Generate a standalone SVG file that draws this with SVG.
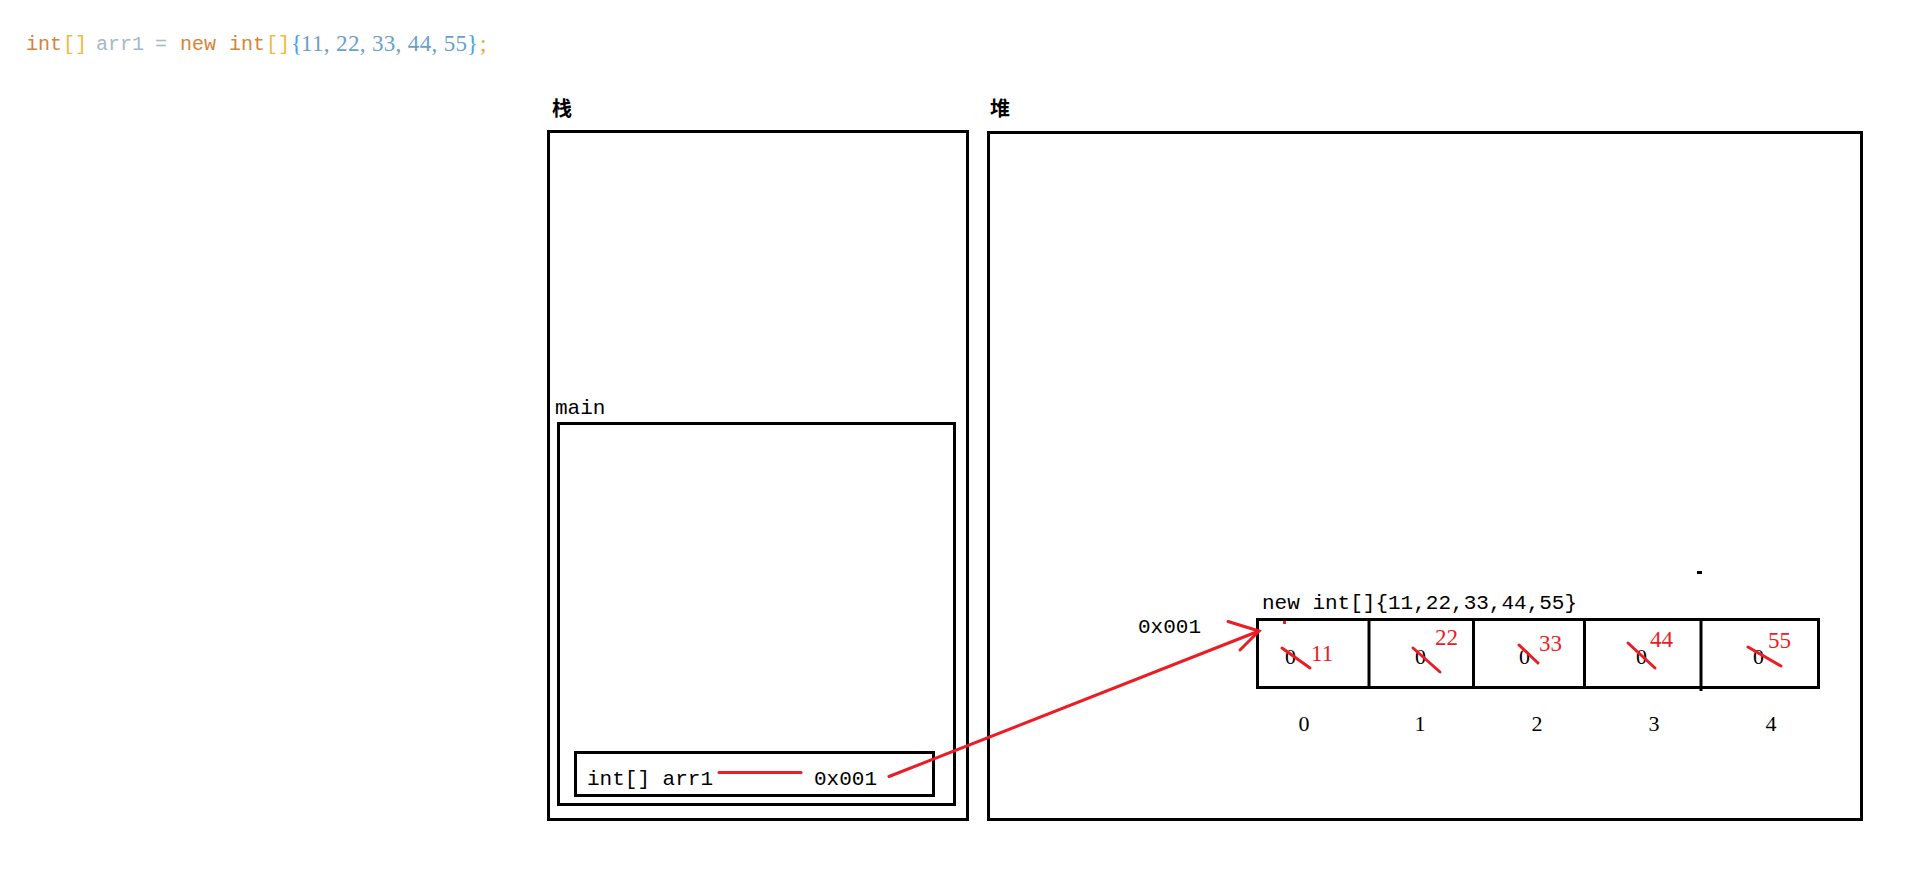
<svg xmlns="http://www.w3.org/2000/svg" width="1914" height="881" viewBox="0 0 1914 881">
<style>
.box{fill:none;stroke:#000;stroke-width:3}
.mono{font-family:"Liberation Mono","Noto Sans CJK SC",monospace;font-size:21px;fill:#000}
.serif{font-family:"Liberation Serif",serif;font-size:22px;fill:#000}
.cjk{font-family:"Noto Sans CJK SC",sans-serif;font-size:20px;font-weight:bold;fill:#000}
.red{stroke:#ED1C24;stroke-width:3;fill:none;stroke-linecap:round}
.rt{font-family:"Liberation Serif",serif;font-size:23px;fill:#ED1C24}
.code{font-size:20px}
</style>
<rect width="1914" height="881" fill="#fff"/>
<g id="code">
<text class="code" y="50" font-family="Liberation Mono, monospace"><tspan x="26" fill="#D5843A">int</tspan><tspan x="63" fill="#F0BA45">[]</tspan><tspan x="96" fill="#A9B7C6">arr1</tspan><tspan x="155" fill="#A9B7C6">=</tspan><tspan x="180" fill="#D5843A">new</tspan><tspan x="229" fill="#D5843A">int</tspan><tspan x="266" fill="#F0BA45">[]</tspan></text>
<text y="51" font-family="Liberation Serif, serif" font-size="23px"><tspan x="291" fill="#4A9EE8">{</tspan><tspan x="301" fill="#6A9FCB" textLength="166" lengthAdjust="spacing">11, 22, 33, 44, 55</tspan><tspan x="467" fill="#4A9EE8">}</tspan><tspan x="480" fill="#E8A33A">;</tspan></text>
</g>
<g id="stack">
<text class="cjk" x="552" y="116">栈</text>
<rect class="box" x="548.5" y="131.5" width="419" height="688"/>
</g>
<g id="main">
<text class="mono" x="555" y="414">main</text>
<rect class="box" x="558.5" y="423.5" width="396" height="381"/>
</g>
<g id="var">
<rect class="box" x="575.5" y="752.5" width="358" height="43"/>
<text class="mono" x="587" y="785">int[] arr1</text>
<text class="mono" x="814" y="785">0x001</text>
</g>
<g id="heap">
<text class="cjk" x="990" y="116">堆</text>
<rect class="box" x="988.5" y="132.5" width="873" height="687"/>
<rect x="1697" y="571" width="5" height="3" fill="#000"/>
</g>
<g id="array">
<text class="mono" x="1262" y="609">new int[]{11,22,33,44,55}</text>
<text class="mono" x="1138" y="633">0x001</text>
<rect class="box" x="1257.5" y="619.5" width="561" height="68"/>
<line class="box" x1="1369" y1="619" x2="1369" y2="688"/>
<line class="box" x1="1473.5" y1="619" x2="1473.5" y2="688"/>
<line class="box" x1="1584.5" y1="619" x2="1584.5" y2="688"/>
<line class="box" x1="1701" y1="619" x2="1701" y2="691"/>
<text class="serif" x="1285" y="664">0</text>
<text class="serif" x="1415" y="664">0</text>
<text class="serif" x="1519" y="664">0</text>
<text class="serif" x="1636" y="664">0</text>
<text class="serif" x="1753" y="664">0</text>
<text class="serif" x="1304" y="731" text-anchor="middle">0</text>
<text class="serif" x="1420" y="731" text-anchor="middle">1</text>
<text class="serif" x="1537" y="731" text-anchor="middle">2</text>
<text class="serif" x="1654" y="731" text-anchor="middle">3</text>
<text class="serif" x="1771" y="731" text-anchor="middle">4</text>
<text class="rt" x="1311" y="661">11</text>
<text class="rt" x="1435" y="645">22</text>
<text class="rt" x="1539" y="651">33</text>
<text class="rt" x="1650" y="647">44</text>
<text class="rt" x="1768" y="648">55</text>
</g>
<g id="connectors">
<line class="red" x1="719" y1="772.5" x2="801" y2="772.5"/>
<line class="red" x1="889" y1="776.5" x2="1259" y2="631"/>
<polyline class="red" points="1228,621.5 1259,631 1240,650"/>
<line class="red" x1="1282" y1="648" x2="1310" y2="668"/>
<line class="red" x1="1413" y1="648" x2="1440" y2="672"/>
<line class="red" x1="1519" y1="645" x2="1538" y2="663"/>
<line class="red" x1="1628" y1="643" x2="1655" y2="668"/>
<line class="red" x1="1748" y1="647" x2="1781" y2="666"/>
<rect x="1283" y="621" width="3" height="3" fill="#ED1C24"/>
</g>
</svg>
